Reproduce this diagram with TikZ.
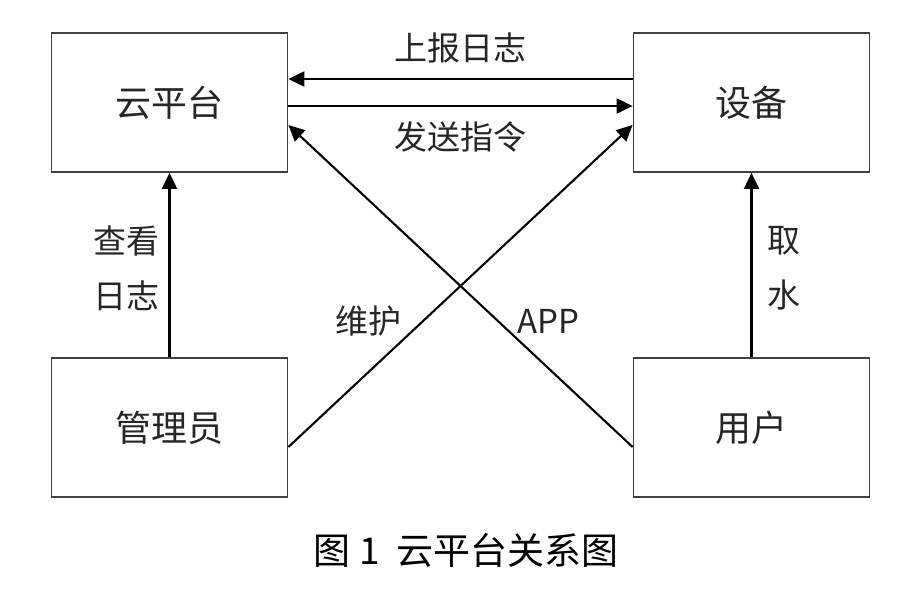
\documentclass[tikz,border=0pt]{standalone}
\usepackage{fontspec}
\newfontfamily\cjk{Noto Sans CJK SC}
\usetikzlibrary{arrows.meta,positioning}

\tikzset{
  ent/.style={shape=rectangle, draw=black!75, line width=1.8pt, minimum width=236pt, minimum height=139pt, font=\cjk\fontsize{36}{36}\selectfont, text=black!85},
  lbl/.style={font=\cjk\fontsize{33}{55}\selectfont, text=black!85, align=center, inner sep=0pt},
  link/.style={line width=2.1pt, -{Triangle[length=16pt,width=15pt]}}
}

\begin{document}
\begin{tikzpicture}[x=1pt,y=-1pt]
	\useasboundingbox (0,0) rectangle (917,592);
	\path (169.5,102.5) node (cloud) [ent] {云平台}
		  (751.5,102.5) node (dev) [ent] {设备}
		  (169.5,427.5) node (admin) [ent] {管理员}
		  (751.5,427.5) node (user) [ent] {用户};
	\draw[link] ([yshift=23.5pt]dev.west) -- ([yshift=23.5pt]cloud.east);
	\draw[link] ([yshift=-3.5pt]cloud.east) -- ([yshift=-3.5pt]dev.west);
	\draw[link] ([yshift=-19.5pt]admin.east) -- ([yshift=-22.5pt]dev.west);
	\draw[link] ([yshift=-19.5pt]user.west) -- ([yshift=-22.5pt]cloud.east);
	\draw[link] (admin) -- (cloud);
	\draw[link] (user) -- (dev);
	% labels
	\node (report) [lbl] at (460,48) {上报日志};
	\node (send) [lbl] at (460,137) {发送指令};
	\node (view) [lbl] at (126,268) {查看\\日志};
	\node (water) [lbl] at (784,268) {取\\水};
	\node (fix) [lbl] at (368,321) {维护};
	\node (app) [lbl] at (548,321) {APP};
	\node (caption) at (466,550) [font=\cjk\fontsize{37}{37}\selectfont] {图\ 1\ \ 云平台关系图};
\end{tikzpicture}
\end{document}
